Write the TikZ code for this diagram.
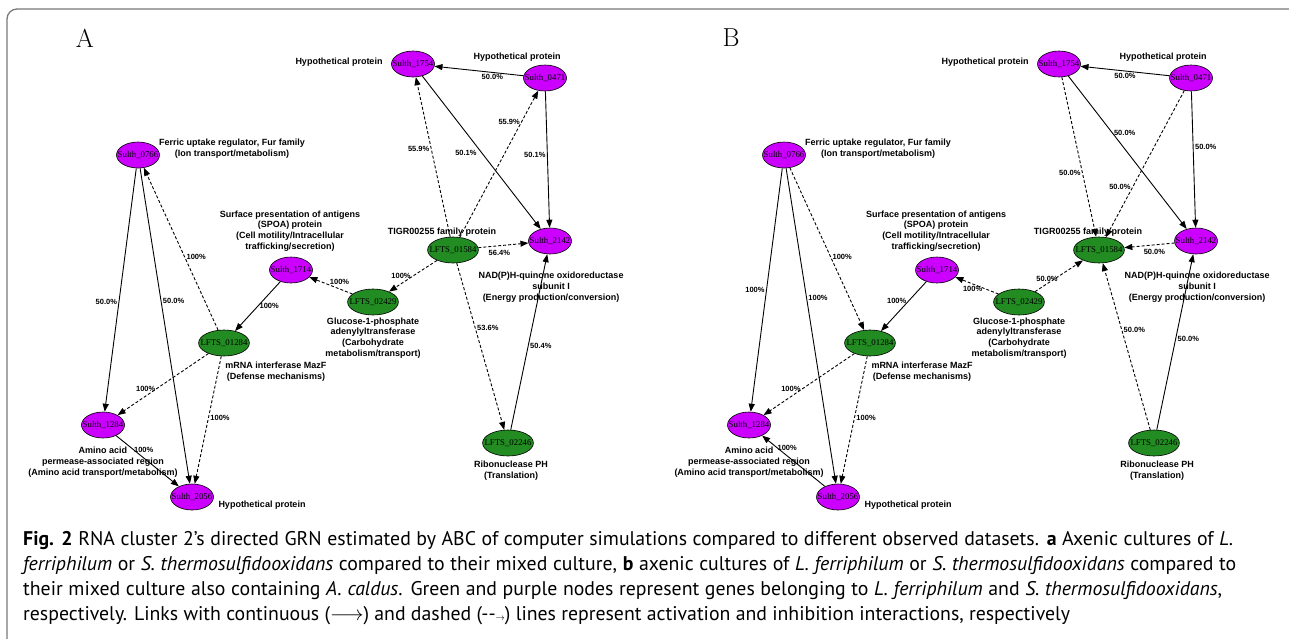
\documentclass[tikz,border=0pt]{standalone}
\usepackage{fontspec}
\usepackage{xcolor}
\usetikzlibrary{arrows.meta,shapes.geometric}

\newfontfamily\geneFont{Liberation Serif}
\newfontfamily\infoFont{Liberation Sans}
\newfontfamily\captionFont{PT Sans}

\definecolor{sulthPurple}{RGB}{204,0,255}
\definecolor{lftsGreen}{RGB}{34,139,34}
\definecolor{frameGray}{RGB}{120,120,120}

\tikzset{
  sulth/.style={ellipse,draw,line width=0.6pt,fill=sulthPurple,minimum width=43pt,minimum height=26pt,
    inner xsep=-5.5pt,inner ysep=0pt,font=\geneFont\fontsize{8.8}{8.8}\selectfont},
  lfts/.style={sulth,fill=lftsGreen,minimum width=50pt},
  info/.style={align=center,inner sep=0pt,font=\infoFont\bfseries\fontsize{9}{10.7}\selectfont},
  pct/.style={inner sep=1.5pt,font=\infoFont\bfseries\fontsize{7.5}{7.5}\selectfont},
  act/.style={-{Triangle[length=8pt,width=6pt]},line width=0.9pt},
  inh/.style={act,dash pattern=on 3pt off 2pt},
  capline/.style={anchor=base west,inner sep=0pt,font=\captionFont\fontsize{19.8}{25}\selectfont},
}

% Gene mit Beschriftung (in beiden Netzen gleich)
\newcommand{\grnNodes}{%
  \node[sulth] (s0766) at (138,155) {Sulth\_0766};
  \node[sulth] (s1754) at (413,64) {Sulth\_1754};
  \node[sulth] (s0471) at (545,78) {Sulth\_0471};
  \node[sulth] (s2142) at (550,241) {Sulth\_2142};
  \node[sulth] (s1714) at (291,270) {Sulth\_1714};
  \node[sulth] (s1284) at (103,425) {Sulth\_1284};
  \node[sulth] (s2056) at (192,497) {Sulth\_2056};
  \node[lfts] (l01584) at (453,250) {LFTS\_01584};
  \node[lfts] (l01284) at (224,343) {LFTS\_01284};
  \node[lfts] (l02429) at (373,302) {LFTS\_02429};
  \node[lfts] (l02246) at (508,443) {LFTS\_02246};
  %
  \node[info] (i1754) at (339,62) {Hypothetical protein};
  \node[info] (i0471) at (517,57) {Hypothetical protein};
  \node[info] (i0766) at (232,149) {Ferric uptake regulator, Fur family\\(Ion transport/metabolism)};
  \node[info] (i1714) at (290,231) {Surface presentation of antigens\\(SPOA) protein\\(Cell motility/Intracellular\\trafficking/secretion)};
  \node[info] (i01584) at (442,232) {TIGR00255 family protein};
  \node[info] (i2142) at (551,287) {NAD(P)H-quinone oxidoreductase\\subunit I\\(Energy production/conversion)};
  \node[info] (i02429) at (373,338) {Glucose-1-phosphate\\adenylyltransferase\\(Carbohydrate\\metabolism/transport)};
  \node[info] (i01284) at (276,372) {mRNA interferase MazF\\(Defense mechanisms)};
  \node[info] (i1284) at (103,462) {Amino acid\\permease-associated region\\(Amino acid transport/metabolism)};
  \node[info] (i2056) at (262,505) {Hypothetical protein};
  \node[info] (i02246) at (511,471) {Ribonuclease PH\\(Translation)};
}

\begin{document}
\begin{tikzpicture}[x=1pt,y=-1pt]
  \pgfmathsetmacro{\panelShift}{646}
  \useasboundingbox (0,0) rectangle (1289,638);
  \clip (0,0) rectangle (1289,638);

  % Rahmen
  \draw[frameGray,line width=1.3pt,rounded corners=10pt] (7,9) rectangle (1320,670);

  % Netz A
  \begin{scope}[name prefix=A-]
    \grnNodes
    \node[font=\fontsize{26}{26}\selectfont] (panel) at (85,38) {A};
    \draw[act] (s0471) -- node[pct,pos=0.35,below] {50.0\%} (s1754);
    \draw[act] (s1754) -- node[pct,pos=0.5,left=3pt] {50.1\%} (s2142);
    \draw[act] (s0471) -- node[pct,pos=0.47,left] {50.1\%} (s2142);
    \draw[inh] (l01584) -- node[pct,pos=0.55,left] {55.9\%} (s1754);
    \draw[inh] (l01584) -- node[pct,pos=0.79,left] {55.9\%} (s0471);
    \draw[inh] (l01584) -- node[pct,pos=0.42,below=2.5pt] {56.4\%} (s2142);
    \draw[inh] (l01584) -- node[pct,pos=0.75,above=3pt] {100\%} (l02429);
    \draw[inh] (l02429) -- node[pct,pos=0.3,above=2pt] {100\%} (s1714);
    \draw[inh] (l01584) -- node[pct,pos=0.39,right] {53.6\%} (l02246);
    \draw[act] (l02246) -- node[pct,pos=0.48,right] {50.4\%} (s2142);
    \draw[act] (s1714) -- node[pct,pos=0.5,right] {100\%} (l01284);
    \draw[inh] (l01284) -- node[pct,pos=0.45,right] {100\%} (s0766);
    \draw[act] (s0766) -- node[pct,pos=0.55,left] {50.0\%} (s1284);
    \draw[act] (s0766) -- node[pct,pos=0.42,right] {50.0\%} (s2056);
    \draw[inh] (l01284) -- node[pct,pos=0.69,above=3pt] {100\%} (s1284);
    \draw[inh] (l01284) -- node[pct,pos=0.48,right] {100\%} (s2056);
    \draw[act] (s1284) -- node[pct,pos=0.44,above=3pt] {100\%} (s2056);
  \end{scope}

  % Netz B
  \begin{scope}[xshift=\panelShift,name prefix=B-]
    \grnNodes
    \node[font=\fontsize{26}{26}\selectfont] (panel) at (85,38) {B};
    \draw[act] (s0471) -- node[pct,pos=0.5,below] {50.0\%} (s1754);
    \draw[act] (s1754) -- node[pct,pos=0.37,right] {50.0\%} (s2142);
    \draw[act] (s0471) -- node[pct,pos=0.41,right] {50.0\%} (s2142);
    \draw[inh] (s1754) -- node[pct,pos=0.6,left] {50.0\%} (l01584);
    \draw[inh] (s0471) -- node[pct,pos=0.66,left] {50.0\%} (l01584);
    \draw[inh] (s2142) -- node[pct,pos=0.4,below=2.5pt] {50.0\%} (l01584);
    \draw[inh] (l02429) -- node[pct,pos=0.25,above] {50.0\%} (l01584);
    \draw[inh] (l02429) -- node[pct,pos=0.6,below] {100\%} (s1714);
    \draw[inh] (l02246) -- node[pct,pos=0.6,right] {50.0\%} (l01584);
    \draw[act] (l02246) -- node[pct,pos=0.52,right] {50.0\%} (s2142);
    \draw[inh] (s0766) -- node[pct,pos=0.55,right] {100\%} (l01284);
    \draw[act] (s1714) -- node[pct,pos=0.4,left] {100\%} (l01284);
    \draw[act] (s0766) -- node[pct,pos=0.5,left] {100\%} (s1284);
    \draw[act] (s0766) -- node[pct,pos=0.41,right] {100\%} (s2056);
    \draw[inh] (l01284) -- node[pct,pos=0.7,above=3pt] {100\%} (s1284);
    \draw[inh] (l01284) -- node[pct,pos=0.48,right] {100\%} (s2056);
    \draw[act] (s2056) -- node[pct,pos=0.6,above=3pt] {100\%} (s1284);
  \end{scope}

  % Bildunterschrift
  \node[capline] (cap1) at (23,545) {\makebox[1210pt][s]{\textbf{Fig. 2} RNA cluster 2’s directed GRN estimated by ABC of computer simulations compared to different observed datasets. \textbf{a} Axenic cultures of \textit{L.}}};
  \node[capline] (cap2) at (23,570) {\makebox[1213pt][s]{\textit{ferriphilum} or \textit{S. thermosulfidooxidans} compared to their mixed culture, \textbf{b} axenic cultures of \textit{L. ferriphilum} or \textit{S. thermosulfidooxidans} compared to}};
  \node[capline] (cap3) at (23,595) {\makebox[1199pt][s]{their mixed culture also containing \textit{A. caldus}. Green and purple nodes represent genes belonging to \textit{L. ferriphilum} and \textit{S. thermosulfidooxidans},}};
  \node[capline] (cap4) at (23,620) {respectively. Links with continuous ($\longrightarrow$) and dashed (-{}-{\small$\rightarrow$}) lines represent activation and inhibition interactions, respectively};
\end{tikzpicture}
\end{document}
